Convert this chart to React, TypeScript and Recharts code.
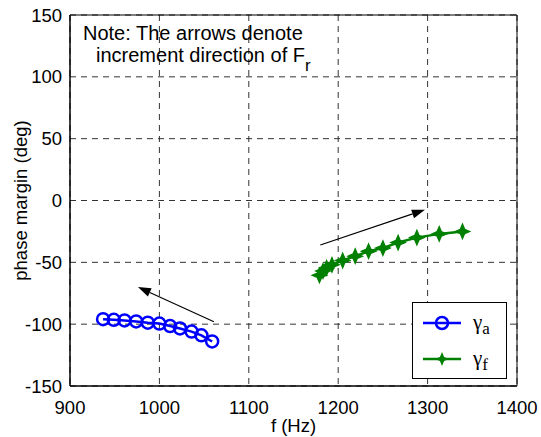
import { LineChart, Line, XAxis, YAxis, CartesianGrid, ReferenceLine, ReferenceArea, Legend } from 'recharts';

// gamma_a (blue circles)
const freqA = [937, 949, 961, 974, 987, 1000, 1012, 1023, 1036, 1047, 1059];
const pmA = [-96, -96.5, -97, -97.8, -98.8, -99.5, -101.5, -103.5, -106, -109, -114];

// gamma_f (green stars)
const freqF = [1179, 1183, 1187, 1193, 1205, 1219, 1234, 1250, 1267, 1288, 1313, 1339];
const pmF = [-60.5, -57, -54.5, -52, -48.5, -45, -41, -38.5, -34, -30, -27, -25];

const xTicks = [900, 1000, 1100, 1200, 1300, 1400];
const yTicks = [-150, -100, -50, 0, 50, 100, 150];

// arrows showing increment direction of Fr
const arrowA = [{ x: 1061, y: -98 }, { x: 976, y: -70 }];
const arrowF = [{ x: 1180, y: -36 }, { x: 1297, y: -7.5 }];

const BLUE = '#0000ff';
const GREEN = '#008000';
const FONT = '"Liberation Sans", Arial, Helvetica, sans-serif';

const dataA = freqA.map((f, i) => ({ f, pm: pmA[i] }));
const dataF = freqF.map((f, i) => ({ f, pm: pmF[i] }));

const starPath = (cx: number, cy: number, r: number) => {
    const s = r * 0.3;
    return `M${cx},${cy - r} L${cx + s},${cy - s} L${cx + r},${cy} L${cx + s},${cy + s} L${cx},${cy + r} L${cx - s},${cy + s} L${cx - r},${cy} L${cx - s},${cy - s} Z`;
};

const StarDot = (props: any) => {
    const { cx, cy, index } = props;
    return <path key={`star-${index}`} d={starPath(cx, cy, 7)} fill={GREEN} stroke={GREEN} strokeWidth={1.5} />;
};

const Arrow = (props: any) => {
    const { x1, y1, x2, y2 } = props;
    const ang = Math.atan2(y2 - y1, x2 - x1);
    const len = 13, half = 4.5;
    const bx = x2 - len * Math.cos(ang), by = y2 - len * Math.sin(ang);
    const px = -Math.sin(ang) * half, py = Math.cos(ang) * half;
    return (
        <g>
            <line x1={x1} y1={y1} x2={bx} y2={by} stroke="#000" strokeWidth={1.2} />
            <polygon points={`${x2},${y2} ${bx + px},${by + py} ${bx - px},${by - py}`} fill="#000" />
        </g>
    );
};

const LegendBox = () => {
    const entries = [
        { sym: 'γ', sub: 'a', color: BLUE, star: false },
        { sym: 'γ', sub: 'f', color: GREEN, star: true },
    ];
    return (
        <div style={{ width: 93, height: 75, border: '1.5px solid #000', background: '#fff' }}>
            <svg width={93} height={75}>
                {entries.map((e, i) => {
                    const y = 20 + i * 36;
                    return (
                        <g key={i}>
                            <line x1={10} x2={48} y1={y} y2={y} stroke={e.color} strokeWidth={2.5} />
                            {e.star
                                ? <path d={starPath(29, y, 7)} fill={e.color} />
                                : <circle cx={29} cy={y} r={6} fill="none" stroke={e.color} strokeWidth={2.5} />}
                            <text x={60} y={y + 6} fontFamily='"Liberation Serif", "Times New Roman", serif' fontSize={21} fill="#000">
                                {e.sym}
                                <tspan fontSize={17} dy={5}>{e.sub}</tspan>
                            </text>
                        </g>
                    );
                })}
            </svg>
        </div>
    );
};

export default function App() {
    return (
        <div style={{ position: 'absolute', left: 0, top: 0, width: 541, height: 437, background: '#fff' }}>
            <LineChart width={541} height={437} margin={{ top: 15, right: 24, left: 0, bottom: 0 }}>
                <CartesianGrid stroke="#333" strokeDasharray="6 5" strokeWidth={1} />
                <XAxis
                    type="number"
                    dataKey="f"
                    domain={[900, 1400]}
                    ticks={xTicks}
                    height={51}
                    tickLine={false}
                    axisLine={{ stroke: '#000' }}
                    tickMargin={9}
                    tick={{ fill: '#000', fontSize: 18.5, fontFamily: FONT }}
                    allowDataOverflow
                    label={{ value: 'f (Hz)', position: 'insideBottom', offset: 5, fill: '#000', fontSize: 18.5, fontFamily: FONT }}
                />
                <YAxis
                    type="number"
                    domain={[-150, 150]}
                    ticks={yTicks}
                    width={70}
                    tickLine={false}
                    axisLine={{ stroke: '#000' }}
                    tick={{ fill: '#000', fontSize: 18.5, fontFamily: FONT }}
                    allowDataOverflow
                    label={{ value: 'phase margin (deg)', angle: -90, position: 'insideLeft', offset: 20, fill: '#000', fontSize: 18.5, fontFamily: FONT, style: { textAnchor: 'middle' } }}
                />
                <ReferenceArea x1={900} x2={1400} y1={-150} y2={150} fill="none" fillOpacity={0} stroke="#000" strokeWidth={1} ifOverflow="visible" />
                <ReferenceLine segment={arrowA} shape={Arrow} ifOverflow="visible" />
                <ReferenceLine segment={arrowF} shape={Arrow} ifOverflow="visible" />
                <Line
                    data={dataA}
                    dataKey="pm"
                    name="γa"
                    stroke={BLUE}
                    strokeWidth={2.5}
                    dot={{ r: 6, stroke: BLUE, strokeWidth: 2.5, fill: 'none' }}
                    isAnimationActive={false}
                />
                <Line
                    data={dataF}
                    dataKey="pm"
                    name="γf"
                    stroke={GREEN}
                    strokeWidth={2.5}
                    dot={StarDot}
                    isAnimationActive={false}
                />
                <Legend
                    layout="vertical"
                    align="center"
                    verticalAlign="middle"
                    wrapperStyle={{ position: 'absolute', left: 412, top: 302, width: 96, height: 78 }}
                    content={() => <LegendBox />}
                />
            </LineChart>
            <svg width={541} height={437} style={{ position: 'absolute', left: 0, top: 0, pointerEvents: 'none' }}>
                <text fontFamily={FONT} fontSize={20} fill="#000">
                    <tspan x={83} y={40}>Note: The arrows denote</tspan>
                    <tspan x={96} y={62}>increment direction of F</tspan>
                    <tspan fontSize={17} dy={9}>r</tspan>
                </text>
            </svg>
        </div>
    );
}
